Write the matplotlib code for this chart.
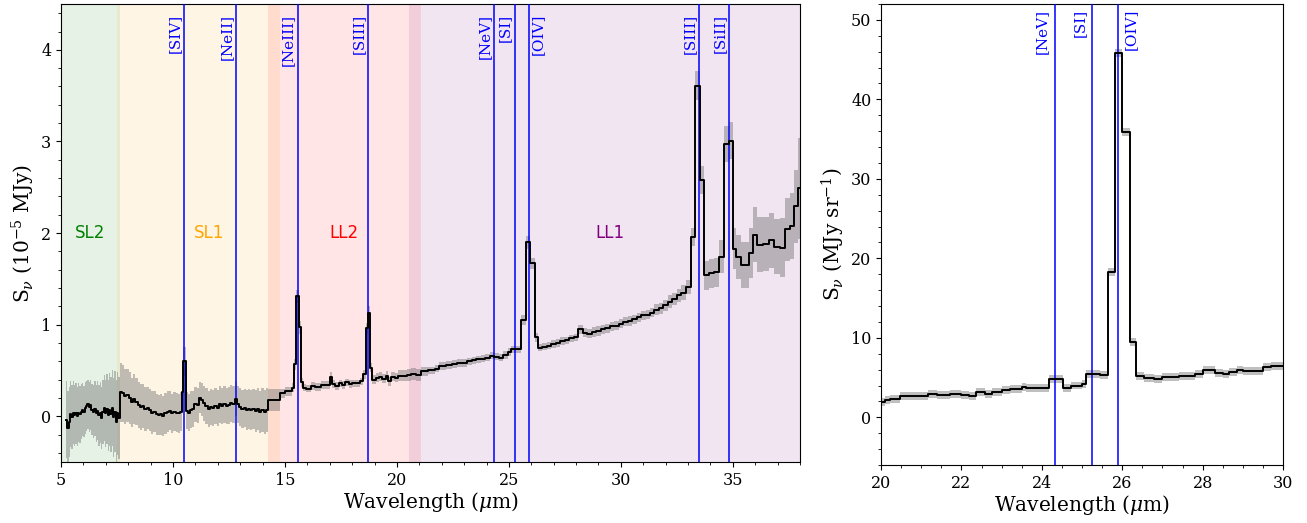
import matplotlib
matplotlib.use("Agg")
import matplotlib.pyplot as plt
import numpy as np
from matplotlib.ticker import MultipleLocator

plt.rcParams['font.family'] = ['DejaVu Serif']
plt.rcParams['mathtext.fontset'] = 'dejavuserif'

# --- left panel: full IRS spectrum (bin left edges, flux, error), 10^-5 MJy ---
sl2_wave = [5.22, 5.28, 5.34, 5.40, 5.46, 5.52, 5.58, 5.64, 5.70, 5.76,
            5.82, 5.88, 5.94, 6.00, 6.06, 6.12, 6.18, 6.24, 6.30, 6.36,
            6.42, 6.48, 6.54, 6.60, 6.66, 6.72, 6.78, 6.84, 6.90, 6.96,
            7.02, 7.08, 7.14, 7.20, 7.26, 7.32, 7.38, 7.44, 7.50, 7.56]
sl2_flux = [-0.04, -0.13, -0.06, 0.02, -0.01, 0.04, 0.01, 0.03, 0.00, 0.04,
            0.02, 0.05, 0.07, 0.05, 0.09, 0.11, 0.13, 0.10, 0.12, 0.07,
            0.05, 0.08, 0.03, 0.06, 0.01, 0.04, -0.02, 0.05, 0.09, 0.03,
            0.08, 0.01, 0.07, 0.02, 0.09, -0.01, 0.05, -0.06, 0.03, -0.02]
sl2_err = [0.42, 0.40, 0.38, 0.36, 0.35, 0.34, 0.33, 0.33, 0.32, 0.32,
           0.31, 0.30, 0.29, 0.28, 0.28, 0.27, 0.27, 0.27, 0.27, 0.28,
           0.29, 0.30, 0.31, 0.32, 0.33, 0.33, 0.34, 0.35, 0.36, 0.37,
           0.38, 0.39, 0.40, 0.41, 0.42, 0.43, 0.44, 0.45, 0.45, 0.45]

sl1_wave = [7.62, 7.72, 7.82, 7.92, 8.02, 8.12, 8.22, 8.32, 8.42, 8.52,
            8.62, 8.72, 8.82, 8.92, 9.02, 9.12, 9.22, 9.32, 9.42, 9.52,
            9.62, 9.72, 9.82, 9.92, 10.02, 10.12, 10.22, 10.32, 10.40, 10.46,
            10.56, 10.65, 10.75, 10.85, 10.95, 11.05, 11.15, 11.25, 11.35, 11.45,
            11.55, 11.65, 11.75, 11.85, 11.95, 12.05, 12.15, 12.25, 12.35, 12.45,
            12.55, 12.65, 12.75, 12.85, 12.95, 13.05, 13.15, 13.25, 13.35, 13.45,
            13.55, 13.65, 13.75, 13.85, 13.95, 14.05, 14.15]
sl1_flux = [0.26, 0.25, 0.22, 0.23, 0.20, 0.15, 0.19, 0.16, 0.12, 0.10,
            0.11, 0.08, 0.09, 0.07, 0.04, 0.05, 0.02, 0.01, 0.02, 0.00,
            0.03, 0.05, 0.06, 0.03, 0.05, 0.04, 0.03, 0.05, 0.26, 0.60,
            0.06, 0.04, 0.07, 0.08, 0.13, 0.12, 0.20, 0.18, 0.14, 0.11,
            0.08, 0.10, 0.09, 0.11, 0.09, 0.13, 0.11, 0.13, 0.11, 0.12,
            0.14, 0.13, 0.19, 0.13, 0.10, 0.08, 0.09, 0.07, 0.08, 0.07,
            0.08, 0.06, 0.08, 0.05, 0.07, 0.05, 0.07]
sl1_err = [0.32, 0.31, 0.30, 0.29, 0.28, 0.27, 0.27, 0.26, 0.25, 0.25,
           0.24, 0.24, 0.23, 0.23, 0.23, 0.22, 0.22, 0.22, 0.22, 0.22,
           0.22, 0.22, 0.21, 0.21, 0.21, 0.21, 0.21, 0.21, 0.20, 0.16,
           0.20, 0.20, 0.20, 0.20, 0.19, 0.19, 0.17, 0.18, 0.19, 0.20,
           0.20, 0.20, 0.20, 0.20, 0.20, 0.20, 0.20, 0.20, 0.20, 0.20,
           0.20, 0.20, 0.19, 0.20, 0.21, 0.21, 0.21, 0.22, 0.22, 0.22,
           0.22, 0.23, 0.23, 0.23, 0.24, 0.24, 0.24]

ll2_wave = [14.26, 14.78, 15.00, 15.30, 15.40, 15.50, 15.62, 15.72, 15.80, 15.95,
            16.15, 16.35, 16.60, 16.80, 17.00, 17.10, 17.25, 17.40, 17.55, 17.70,
            17.85, 18.00, 18.20, 18.35, 18.50, 18.60, 18.70, 18.80, 18.88, 19.05,
            19.20, 19.35, 19.50, 19.62, 19.75, 19.90, 20.05, 20.25, 20.45, 20.65,
            20.85]
ll2_flux = [0.18, 0.25, 0.27, 0.31, 0.57, 1.31, 0.97, 0.37, 0.31, 0.30,
            0.33, 0.32, 0.34, 0.34, 0.43, 0.35, 0.33, 0.36, 0.34, 0.37,
            0.35, 0.36, 0.36, 0.38, 0.46, 0.96, 1.13, 0.53, 0.40, 0.42,
            0.43, 0.41, 0.44, 0.38, 0.43, 0.42, 0.44, 0.44, 0.45, 0.46,
            0.45]
ll2_err = [0.12, 0.05, 0.05, 0.05, 0.06, 0.07, 0.07, 0.05, 0.04, 0.04,
           0.04, 0.04, 0.04, 0.04, 0.05, 0.04, 0.04, 0.04, 0.04, 0.04,
           0.04, 0.04, 0.04, 0.04, 0.05, 0.06, 0.07, 0.05, 0.05, 0.05,
           0.05, 0.05, 0.05, 0.05, 0.05, 0.05, 0.06, 0.06, 0.07, 0.07,
           0.07]

ll1_wave = [21.07, 21.40, 21.70, 21.90, 22.20, 22.45, 22.70, 22.95, 23.15, 23.35,
            23.55, 23.75, 23.95, 24.15, 24.35, 24.55, 24.75, 24.95, 25.10, 25.30,
            25.55, 25.75, 25.95, 26.15, 26.30, 26.50, 26.70, 26.90, 27.10, 27.30,
            27.50, 27.70, 27.90, 28.10, 28.30, 28.50, 28.70, 28.90, 29.10, 29.30,
            29.50, 29.70, 29.90, 30.10, 30.30, 30.50, 30.70, 30.90, 31.10, 31.30,
            31.50, 31.70, 31.90, 32.10, 32.30, 32.50, 32.70, 32.90, 33.15, 33.33,
            33.52, 33.70, 33.95, 34.15, 34.40, 34.60, 34.83, 35.00, 35.15, 35.35,
            35.70, 35.90, 36.10, 36.35, 36.60, 36.85, 37.10, 37.35, 37.55, 37.75,
            37.90]
ll1_flux = [0.49, 0.50, 0.52, 0.55, 0.56, 0.57, 0.58, 0.58, 0.60, 0.61,
            0.62, 0.63, 0.64, 0.66, 0.65, 0.64, 0.67, 0.70, 0.73, 0.73,
            1.05, 1.90, 1.67, 0.86, 0.75, 0.76, 0.77, 0.79, 0.80, 0.82,
            0.83, 0.85, 0.86, 0.95, 0.91, 0.90, 0.92, 0.93, 0.95, 0.96,
            0.98, 0.99, 1.01, 1.03, 1.04, 1.06, 1.08, 1.10, 1.11, 1.13,
            1.16, 1.18, 1.21, 1.25, 1.28, 1.32, 1.35, 1.41, 1.96, 3.61,
            2.58, 1.54, 1.56, 1.57, 1.74, 2.97, 3.01, 1.83, 1.74, 1.65,
            1.78, 1.98, 1.87, 1.88, 1.92, 1.85, 1.84, 2.04, 2.08, 2.29,
            2.49]
ll1_err = [0.05, 0.04, 0.04, 0.04, 0.04, 0.04, 0.04, 0.04, 0.04, 0.04,
           0.04, 0.04, 0.04, 0.04, 0.04, 0.04, 0.04, 0.04, 0.04, 0.04,
           0.05, 0.07, 0.06, 0.05, 0.04, 0.04, 0.04, 0.04, 0.04, 0.04,
           0.04, 0.04, 0.04, 0.05, 0.05, 0.05, 0.05, 0.05, 0.05, 0.05,
           0.05, 0.05, 0.05, 0.05, 0.05, 0.05, 0.05, 0.05, 0.05, 0.05,
           0.06, 0.06, 0.06, 0.07, 0.07, 0.07, 0.08, 0.08, 0.10, 0.16,
           0.15, 0.16, 0.16, 0.16, 0.18, 0.20, 0.20, 0.22, 0.24, 0.25,
           0.27, 0.30, 0.30, 0.30, 0.30, 0.30, 0.32, 0.34, 0.36, 0.40,
           0.55]
spec_end = 38.2

# --- right panel: zoom on [OIV], MJy sr^-1 ---
zoom_wave = [19.80, 20.10, 20.22, 20.47, 21.17, 21.38, 21.71, 22.00, 22.20, 22.37,
             22.58, 22.75, 23.00, 23.20, 23.50, 23.60, 24.18, 24.52, 24.73, 25.00,
             25.10, 25.45, 25.64, 25.82, 26.00, 26.18, 26.35, 26.53, 26.80, 27.00,
             27.40, 27.80, 28.00, 28.30, 28.50, 28.65, 28.85, 29.00, 29.50, 29.70]
zoom_flux = [1.93, 2.20, 2.30, 2.64, 2.98, 2.85, 2.98, 2.85, 2.64, 3.19,
             2.90, 3.20, 3.40, 3.60, 3.80, 3.70, 4.79, 3.74, 4.00, 4.20,
             5.50, 5.30, 18.3, 45.8, 35.9, 9.50, 5.20, 4.90, 4.80, 5.05,
             5.20, 5.40, 6.00, 5.60, 5.40, 5.70, 6.00, 5.80, 6.30, 6.50]
zoom_err = [0.5] * len(zoom_flux)
zoom_end = 30.3

# module coverage (shaded) and line identifications
modules = ['SL2', 'SL1', 'LL2', 'LL1']
module_lo = [5.0, 7.49, 14.26, 20.54]
module_hi = [7.63, 14.78, 21.07, 38.5]
module_colors = ['green', 'orange', 'red', 'purple']
module_label_x = [6.3, 11.6, 17.65, 29.5]

line_names = ['[SIV]', '[NeII]', '[NeIII]', '[SIII]', '[NeV]', '[SI]',
              '[OIV]', '[SIII]', '[SiII]']
line_waves = [10.51, 12.81, 15.56, 18.71, 24.32, 25.25, 25.89, 33.48, 34.82]
zoom_lines = ['[NeV]', '[SI]', '[OIV]']


def draw_spectrum(ax, wave, flux, err, end):
    # repeat the last bin so the step reaches the last edge
    x = np.append(wave, end)
    y = np.append(flux, flux[-1])
    e = np.append(err, err[-1])
    ax.fill_between(x, y - e, y + e, step='post', color='gray', alpha=0.5,
                    lw=0, zorder=2)
    ax.step(x, y, where='post', color='k', lw=1.4, zorder=4)


def draw_lines(ax, names, waves, gap, ytop):
    trans = ax.get_xaxis_transform()
    for name, w in zip(names, waves):
        ax.axvline(w, color='blue', lw=1.1, zorder=3)
        if name == '[OIV]':
            ax.text(w + gap, ytop, name, rotation=90, color='blue',
                    fontsize=11, ha='left', va='top', transform=trans)
        else:
            ax.text(w - gap, ytop, name, rotation=90, color='blue',
                    fontsize=11, ha='right', va='top', transform=trans)


fig = plt.figure(figsize=(13.07, 5.23), dpi=100)
ax1 = fig.add_axes([0.0467, 0.1166, 0.5654, 0.8757])
ax2 = fig.add_axes([0.6741, 0.1109, 0.3076, 0.8815])

# left panel
for name, lo, hi, c, lx in zip(modules, module_lo, module_hi, module_colors,
                               module_label_x):
    ax1.axvspan(lo, hi, color=c, alpha=0.1, lw=0, zorder=0)
    ax1.text(lx, 2.0, name, color=c, fontsize=12, family='DejaVu Sans',
             ha='center', va='center')

all_wave = sl2_wave + sl1_wave + ll2_wave + ll1_wave
all_flux = sl2_flux + sl1_flux + ll2_flux + ll1_flux
all_err = sl2_err + sl1_err + ll2_err + ll1_err
draw_spectrum(ax1, all_wave, all_flux, all_err, spec_end)
draw_lines(ax1, line_names, line_waves, 0.1, 0.978)

ax1.set_xlim(5, 38)
ax1.set_ylim(-0.5, 4.5)
ax1.xaxis.set_major_locator(MultipleLocator(5))
ax1.xaxis.set_minor_locator(MultipleLocator(1))
ax1.yaxis.set_major_locator(MultipleLocator(1))
ax1.yaxis.set_minor_locator(MultipleLocator(0.2))
ax1.set_xlabel(r'Wavelength ($\mu$m)', fontsize=14.5, labelpad=1)
ax1.set_ylabel(r'S$_\nu$ (10$^{-5}$ MJy)', fontsize=14.5, labelpad=3)
ax1.tick_params(labelsize=11.5)

# right panel
draw_spectrum(ax2, zoom_wave, zoom_flux, zoom_err, zoom_end)
draw_lines(ax2, zoom_lines, [w for n, w in zip(line_names, line_waves)
                             if n in zoom_lines and w < 30], 0.14, 0.99)
ax2.set_xlim(20, 30)
ax2.set_ylim(-6, 52)
ax2.xaxis.set_major_locator(MultipleLocator(2))
ax2.xaxis.set_minor_locator(MultipleLocator(0.5))
ax2.yaxis.set_major_locator(MultipleLocator(10))
ax2.yaxis.set_minor_locator(MultipleLocator(2))
ax2.set_xlabel(r'Wavelength ($\mu$m)', fontsize=14.5, labelpad=1)
ax2.set_ylabel(r'S$_\nu$ (MJy sr$^{-1}$)', fontsize=14.5, labelpad=3)
ax2.tick_params(labelsize=11.5)

fig.savefig('out.png', dpi=100)
